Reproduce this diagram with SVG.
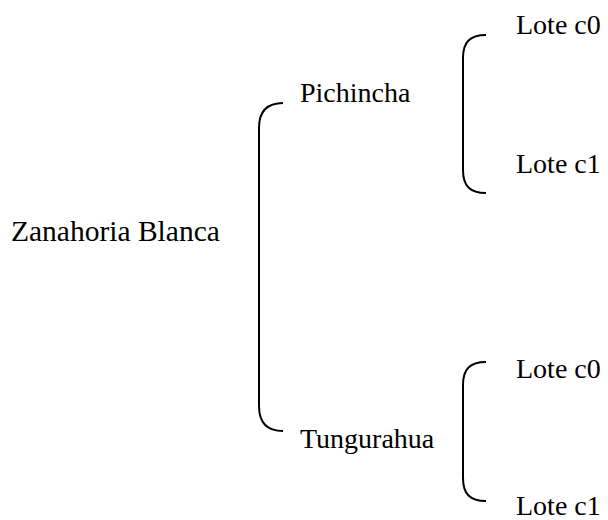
<svg xmlns="http://www.w3.org/2000/svg" width="608" height="520" viewBox="0 0 608 520">
<style>
text{font-family:"Liberation Serif","Times New Roman",serif;font-size:28px;fill:#000}
.br{fill:none;stroke:#000;stroke-width:2}
</style>
<rect width="608" height="520" fill="#fff"/>
<g id="connectors">
<path class="br" d="M283,103 C267,103 259,112 259,128 V406 C259,422 267,431 283,431"/>
<path class="br" d="M486,35 C470,35 463,42 463,58 V170 C463,186 470,193 486,193"/>
<path class="br" d="M486,362 C470,362 463,369 463,385 V478 C463,494 470,501 486,501"/>
</g>
<g id="root"><text x="11" y="241" style="font-size:29.5px">Zanahoria Blanca</text></g>
<g id="pichincha"><text x="300" y="102">Pichincha</text></g>
<g id="tungurahua"><text x="300" y="448">Tungurahua</text></g>
<g id="p-c0"><text x="516" y="34">Lote c0</text></g>
<g id="p-c1"><text x="516" y="173">Lote c1</text></g>
<g id="t-c0"><text x="516" y="378">Lote c0</text></g>
<g id="t-c1"><text x="516" y="515">Lote c1</text></g>
</svg>
